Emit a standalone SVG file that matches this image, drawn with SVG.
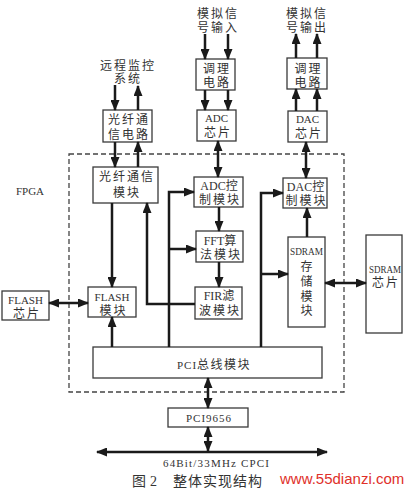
<svg xmlns="http://www.w3.org/2000/svg" width="414" height="490" viewBox="0 0 414 490">
<style>
.box{fill:#fff;stroke:#3a3a3a;stroke-width:1.3}
.cn{font-family:"Liberation Serif","Noto Sans CJK SC",serif;font-size:12px;fill:#333;text-anchor:middle;letter-spacing:2px}
.lt{font-family:"Liberation Serif","Noto Sans CJK SC",serif;font-size:11px;fill:#333;text-anchor:middle}
.ar{fill:none;stroke:#1a1a1a;stroke-width:2.5}
</style>
<defs>
<marker id="ah" markerUnits="userSpaceOnUse" markerWidth="11" markerHeight="9" refX="10" refY="4.5" orient="auto-start-reverse">
<path d="M0,0 L11,4.5 L0,9 z" fill="#1a1a1a"/>
</marker>
</defs>
<rect width="414" height="490" fill="#fff"/>

<rect id="fpga" x="69" y="154" width="275" height="238" fill="none" stroke="#444" stroke-width="1.3" stroke-dasharray="5,3"/>
<text class="lt" x="30" y="195">FPGA</text>

<g id="labels">
<text class="cn" x="128" y="70">远程监控</text>
<text class="cn" x="128" y="83">系统</text>
<text class="cn" x="218" y="18">模拟信</text>
<text class="cn" x="218" y="32">号输入</text>
<text class="cn" x="307" y="18">模拟信</text>
<text class="cn" x="307" y="32">号输出</text>
</g>

<g id="fiber_circuit">
<rect class="box" x="103" y="110" width="49" height="32"/>
<text class="cn" x="129" y="124">光纤通</text>
<text class="cn" x="129" y="139">信电路</text>
</g>
<g id="adc_cond">
<rect class="box" x="196" y="59" width="39" height="31"/>
<text class="cn" x="217" y="73">调理</text>
<text class="cn" x="217" y="87">电路</text>
</g>
<g id="adc_chip">
<rect class="box" x="197" y="110" width="39" height="31"/>
<text class="lt" x="216.5" y="122">ADC</text>
<text class="cn" x="218" y="137">芯片</text>
</g>
<g id="dac_cond">
<rect class="box" x="287" y="58" width="40" height="31"/>
<text class="cn" x="308.5" y="73">调理</text>
<text class="cn" x="308.5" y="87">电路</text>
</g>
<g id="dac_chip">
<rect class="box" x="288" y="111" width="39" height="31"/>
<text class="lt" x="307.5" y="123">DAC</text>
<text class="cn" x="309" y="138">芯片</text>
</g>
<g id="fiber_module">
<rect class="box" x="93" y="167" width="65" height="36"/>
<text class="cn" x="127" y="181">光纤通信</text>
<text class="cn" x="127" y="197">模块</text>
</g>
<g id="adc_ctrl">
<rect class="box" x="194" y="177" width="49" height="30"/>
<text class="cn" x="220" y="190"><tspan style="letter-spacing:0">ADC</tspan>控</text>
<text class="cn" x="220" y="204">制模块</text>
</g>
<g id="fft">
<rect class="box" x="196" y="231" width="47" height="31"/>
<text class="cn" x="221" y="245"><tspan style="letter-spacing:0">FFT</tspan>算</text>
<text class="cn" x="221" y="259">法模块</text>
</g>
<g id="fir">
<rect class="box" x="195" y="287" width="47" height="32"/>
<text class="cn" x="220" y="300"><tspan style="letter-spacing:0">FIR</tspan>滤</text>
<text class="cn" x="220" y="315">波模块</text>
</g>
<g id="dac_ctrl">
<rect class="box" x="283" y="178" width="44" height="30"/>
<text class="cn" x="306.5" y="191"><tspan style="letter-spacing:0">DAC</tspan>控</text>
<text class="cn" x="306.5" y="205">制模块</text>
</g>
<g id="sdram_module">
<rect class="box" x="288" y="237" width="37" height="90"/>
<text class="lt" x="306.5" y="255" font-size="10" textLength="33" lengthAdjust="spacingAndGlyphs">SDRAM</text>
<text class="cn" x="306.5" y="271" style="letter-spacing:0">存</text>
<text class="cn" x="306.5" y="286" style="letter-spacing:0">储</text>
<text class="cn" x="306.5" y="301" style="letter-spacing:0">模</text>
<text class="cn" x="306.5" y="315" style="letter-spacing:0">块</text>
</g>
<g id="sdram_chip">
<rect class="box" x="366" y="235" width="36" height="98"/>
<text class="lt" x="385" y="273" font-size="10" textLength="32" lengthAdjust="spacingAndGlyphs">SDRAM</text>
<text class="cn" x="386" y="287">芯片</text>
</g>
<g id="flash_chip">
<rect class="box" x="2" y="291" width="47" height="29"/>
<text class="lt" x="25.5" y="304">FLASH</text>
<text class="cn" x="27" y="318">芯片</text>
</g>
<g id="flash_module">
<rect class="box" x="88" y="287" width="48" height="30"/>
<text class="lt" x="112" y="301">FLASH</text>
<text class="cn" x="113.5" y="315">模块</text>
</g>
<g id="pci_module">
<rect class="box" x="93" y="347" width="229" height="31"/>
<text class="cn" x="214" y="369" style="letter-spacing:1.5px"><tspan font-size="11" style="letter-spacing:1px">PCI</tspan>总线模块</text>
</g>
<g id="pci9656">
<rect class="box" x="168" y="408" width="80" height="19"/>
<text class="lt" x="209" y="422" style="letter-spacing:1px">PCI9656</text>
</g>

<g id="connectors">
<line class="ar" x1="115" y1="85" x2="115" y2="110" marker-end="url(#ah)"/>
<line class="ar" x1="138" y1="110" x2="138" y2="86" marker-end="url(#ah)"/>
<line class="ar" x1="115" y1="142" x2="115" y2="167" marker-end="url(#ah)"/>
<line class="ar" x1="138" y1="167" x2="138" y2="142" marker-end="url(#ah)"/>
<line class="ar" x1="205" y1="34" x2="205" y2="59" marker-end="url(#ah)"/>
<line class="ar" x1="228" y1="34" x2="228" y2="59" marker-end="url(#ah)"/>
<line class="ar" x1="205" y1="90" x2="205" y2="110" marker-end="url(#ah)"/>
<line class="ar" x1="228" y1="90" x2="228" y2="110" marker-end="url(#ah)"/>
<line class="ar" x1="296" y1="58" x2="296" y2="34" marker-end="url(#ah)"/>
<line class="ar" x1="317" y1="58" x2="317" y2="34" marker-end="url(#ah)"/>
<line class="ar" x1="296" y1="111" x2="296" y2="89" marker-end="url(#ah)"/>
<line class="ar" x1="317" y1="111" x2="317" y2="89" marker-end="url(#ah)"/>
<line class="ar" x1="218" y1="141" x2="218" y2="177" marker-start="url(#ah)" marker-end="url(#ah)"/>
<line class="ar" x1="306" y1="142" x2="306" y2="178" marker-start="url(#ah)" marker-end="url(#ah)"/>
<line class="ar" x1="219" y1="207" x2="219" y2="231" marker-end="url(#ah)"/>
<line class="ar" x1="219" y1="262" x2="219" y2="287" marker-end="url(#ah)"/>
<line class="ar" x1="112" y1="203" x2="112" y2="287" marker-end="url(#ah)"/>
<polyline class="ar" points="195,304 147,304 147,203" marker-end="url(#ah)"/>
<line class="ar" x1="112" y1="347" x2="112" y2="317" marker-end="url(#ah)"/>
<line class="ar" x1="49" y1="303" x2="88" y2="303" marker-start="url(#ah)" marker-end="url(#ah)"/>
<polyline class="ar" points="169,347 169,192 194,192" marker-end="url(#ah)"/>
<line class="ar" x1="169" y1="249" x2="196" y2="249" marker-end="url(#ah)"/>
<polyline class="ar" points="261,347 261,193 283,193" marker-end="url(#ah)"/>
<line class="ar" x1="261" y1="274" x2="288" y2="274" marker-end="url(#ah)"/>
<line class="ar" x1="307" y1="237" x2="307" y2="208" marker-end="url(#ah)"/>
<line class="ar" x1="325" y1="283" x2="366" y2="283" marker-start="url(#ah)" marker-end="url(#ah)"/>
<line class="ar" x1="208" y1="378" x2="208" y2="408" marker-start="url(#ah)" marker-end="url(#ah)"/>
<line class="ar" x1="208" y1="427" x2="208" y2="451" marker-start="url(#ah)" marker-end="url(#ah)"/>
<line class="ar" x1="97" y1="452" x2="327" y2="452" marker-start="url(#ah)" marker-end="url(#ah)"/>
</g>

<text class="lt" x="216" y="467" textLength="106" lengthAdjust="spacing">64Bit/33MHz CPCI</text>
<text y="486" font-family="Liberation Serif,'Noto Sans CJK SC',serif" font-size="14" fill="#333" style="letter-spacing:1px"><tspan x="132">图</tspan><tspan x="150">2</tspan><tspan x="173">整体实现结构</tspan></text>
<text x="280" y="484" font-family="'Liberation Sans',Arial,sans-serif" font-size="15" fill="#e0302a">www.55dianzi.com</text>
</svg>
